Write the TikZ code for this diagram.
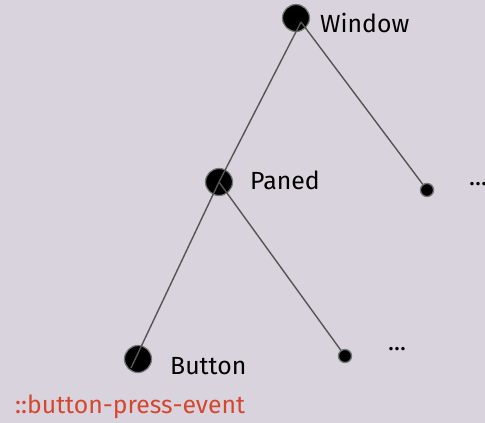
\documentclass[tikz,border=0pt]{standalone}
\usepackage{fontspec}
\setmainfont{Fira Sans}
\definecolor{bg}{HTML}{D8D3DC}
\definecolor{edge}{HTML}{555555}
\definecolor{evt}{HTML}{D4472F}
\begin{document}
\begin{tikzpicture}[x=1pt,y=-1pt,
  big/.style={circle,fill=black,draw=edge!80,line width=1.2pt,minimum size=27pt,inner sep=0pt},
  small/.style={circle,fill=black,draw=edge!80,line width=1.2pt,minimum size=13pt,inner sep=0pt},
  lbl/.style={font=\fontsize{24.8}{28}\selectfont,anchor=west,inner sep=0pt},
  link/.style={draw=edge,line width=1.4pt}]
\fill[bg] (0,0) rectangle (485,423);
\useasboundingbox (0,0) rectangle (485,423);
\node[big] (win) at (296,18) {};
\node[big] (pan) at (219,182) {};
\node[big] (btn) at (138,359) {};
\node[small] (d1) at (427,190) {};
\node[small] (d2) at (345,356) {};
\coordinate (wa) at (301,22);
\coordinate (ba) at (131,368);
\draw[link] (wa) -- (pan.center);
\draw[link] (wa) -- (d1.center);
\draw[link] (pan.center) -- (d2.center);
\draw[link] (pan.center) -- (ba);
\node[small] at (d1) {};
\node[small] at (d2) {};
\node[lbl] (lw) at (320,23) {Window};
\node[lbl] (lp) at (250,180) {Paned};
\node[lbl] (lb) at (170,366) {Button};
\node[lbl] (e1) at (469,184) {...};
\node[lbl] (e2) at (388,349) {...};
\node[lbl,text=evt] (ev) at (15,407) {::button-press-event};
\end{tikzpicture}
\end{document}
